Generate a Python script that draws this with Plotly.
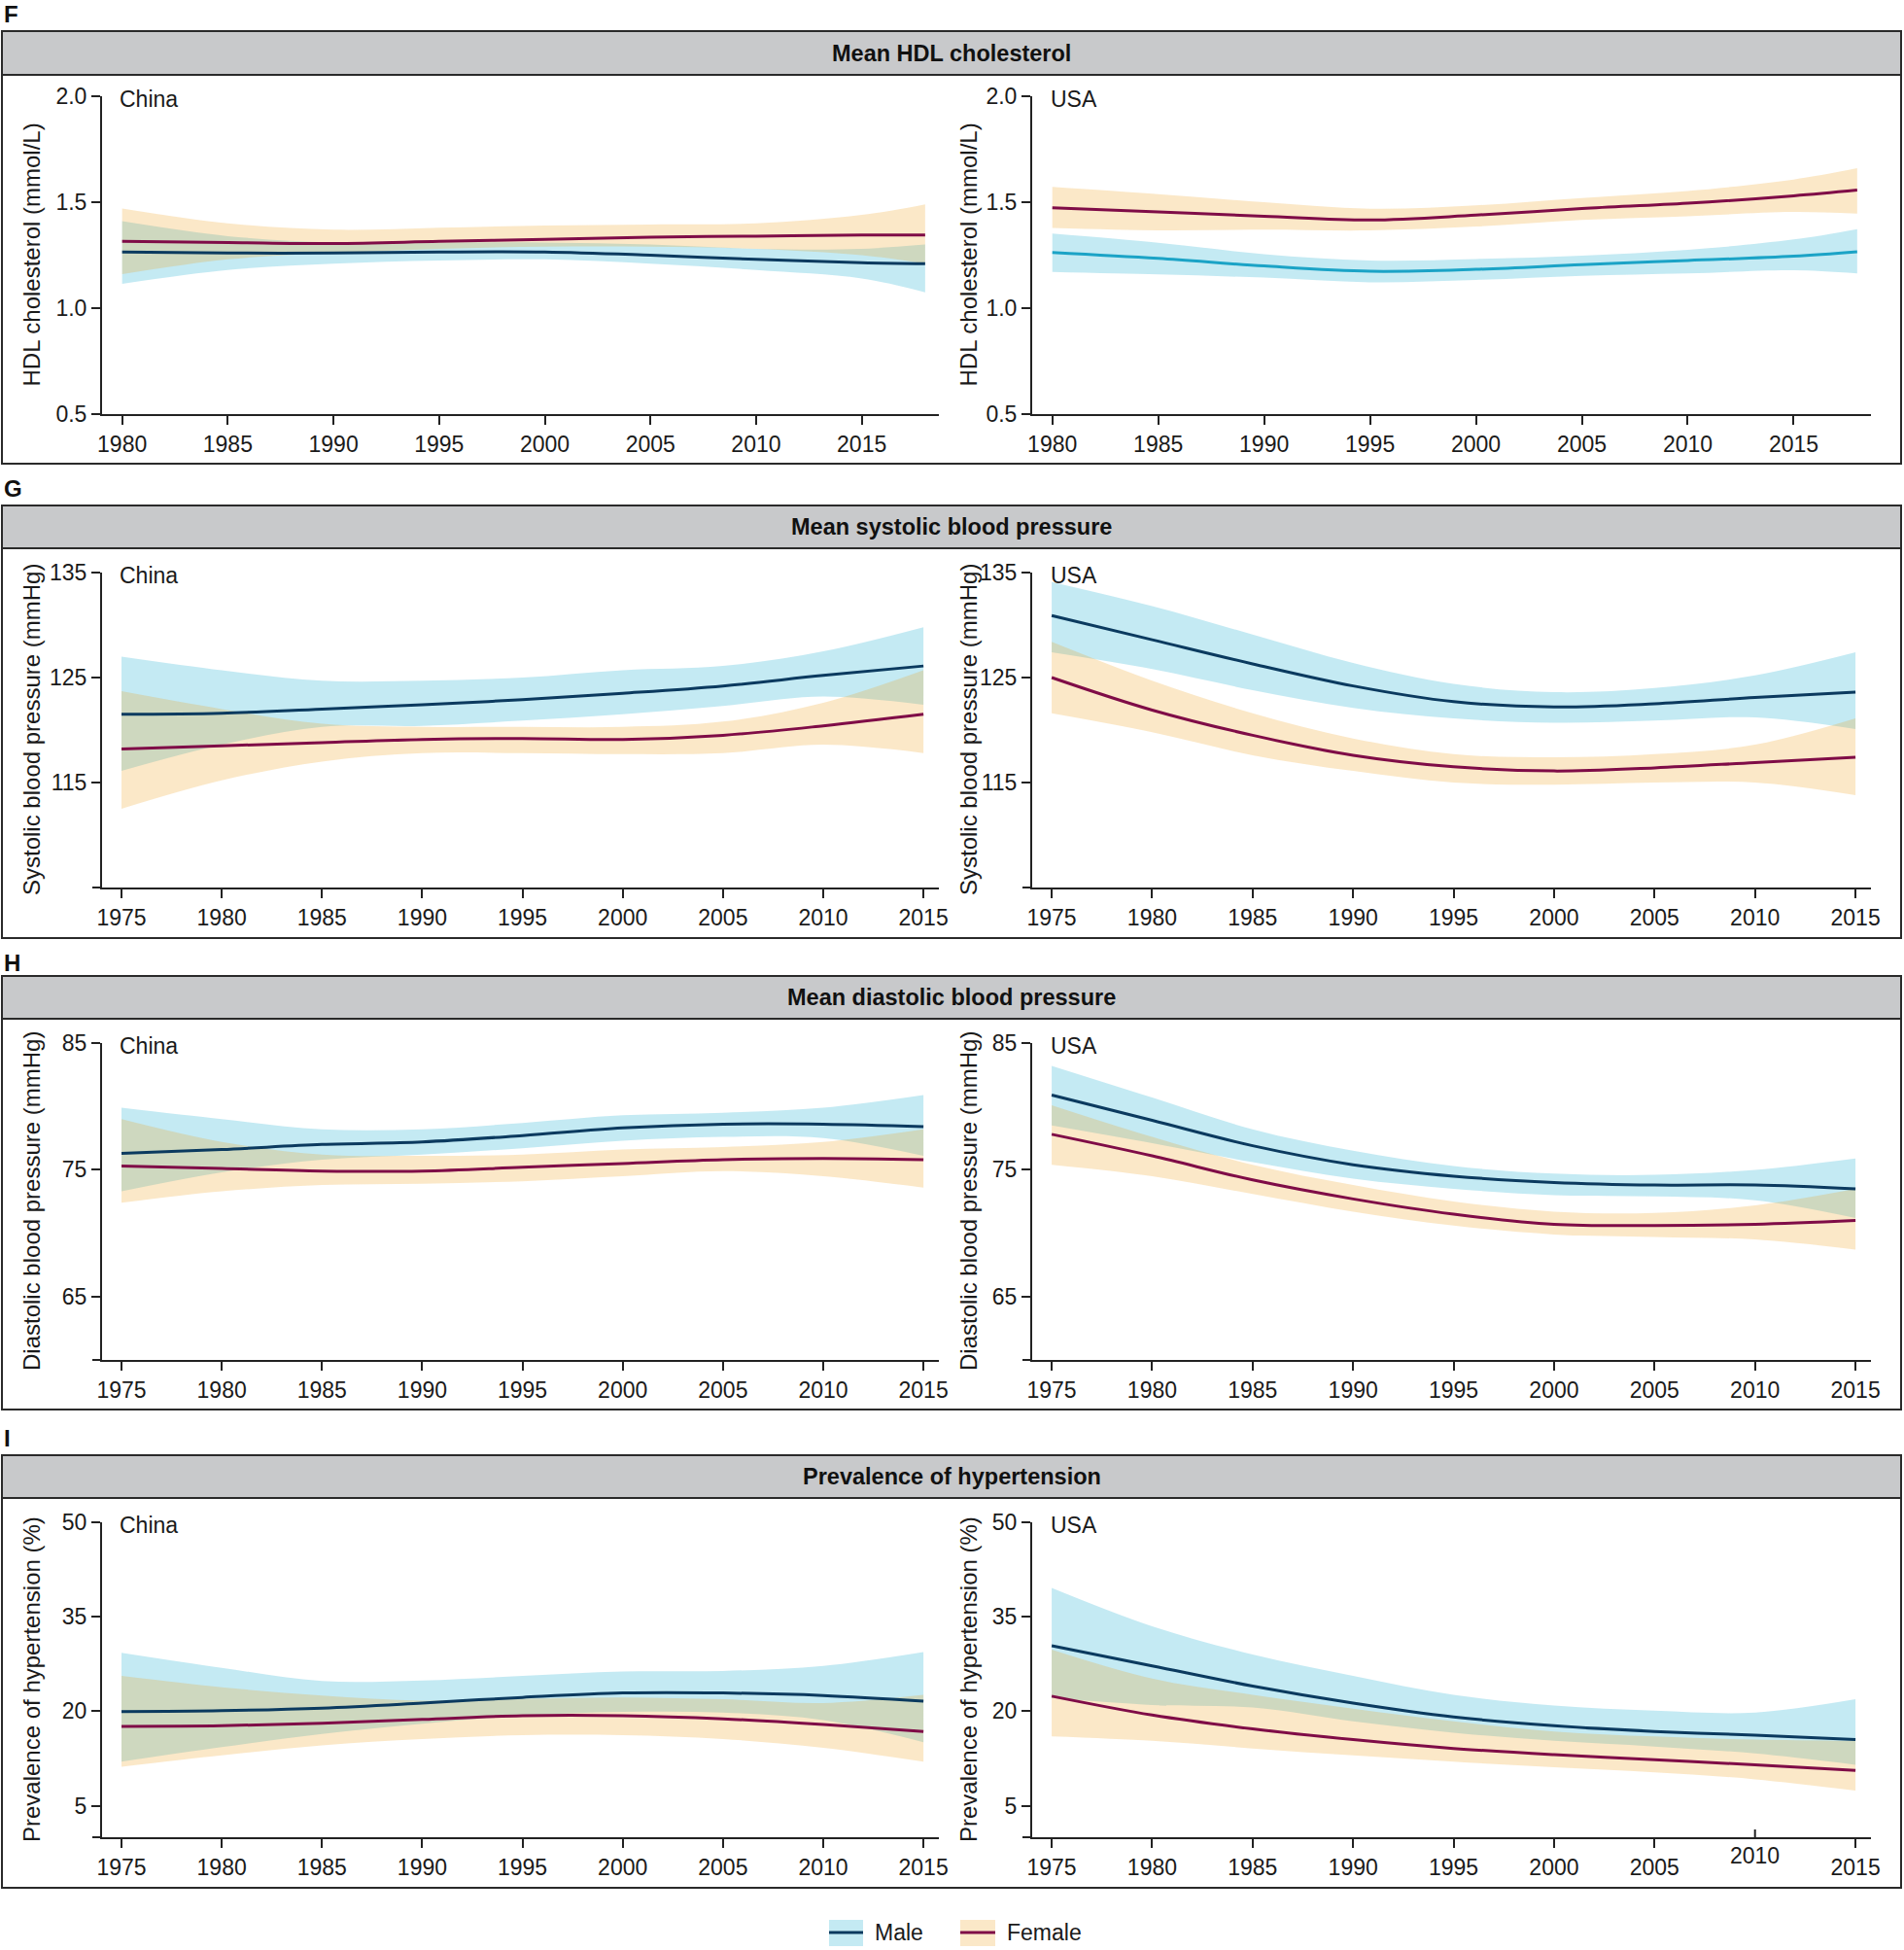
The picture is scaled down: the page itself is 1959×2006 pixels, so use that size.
import plotly.graph_objects as go

W, H = 1959, 2006

# ---------------- data ----------------
years_hdl = [1980, 1985, 1990, 1995, 2000, 2005, 2010, 2015, 2018]
years_bp = [1975, 1980, 1985, 1990, 1995, 2000, 2005, 2010, 2015]

# F: HDL cholesterol (mmol/L)
hdl_cn_m = [1.265, 1.26, 1.26, 1.265, 1.265, 1.25, 1.23, 1.215, 1.21]
hdl_cn_m_hi = [1.41, 1.34, 1.31, 1.31, 1.31, 1.30, 1.28, 1.28, 1.30]
hdl_cn_m_lo = [1.115, 1.18, 1.21, 1.225, 1.23, 1.21, 1.18, 1.14, 1.075]
hdl_cn_f = [1.315, 1.31, 1.305, 1.315, 1.325, 1.335, 1.34, 1.345, 1.345]
hdl_cn_f_hi = [1.47, 1.40, 1.37, 1.38, 1.39, 1.395, 1.40, 1.44, 1.49]
hdl_cn_f_lo = [1.16, 1.23, 1.26, 1.28, 1.29, 1.29, 1.28, 1.25, 1.21]

hdl_us_m = [1.263, 1.235, 1.199, 1.174, 1.183, 1.205, 1.225, 1.245, 1.266]
hdl_us_m_hi = [1.352, 1.309, 1.255, 1.225, 1.232, 1.248, 1.275, 1.324, 1.373]
hdl_us_m_lo = [1.171, 1.159, 1.144, 1.122, 1.133, 1.153, 1.164, 1.179, 1.164]
hdl_us_f = [1.474, 1.454, 1.434, 1.416, 1.439, 1.47, 1.495, 1.53, 1.557]
hdl_us_f_hi = [1.572, 1.538, 1.50, 1.469, 1.485, 1.52, 1.553, 1.607, 1.66]
hdl_us_f_lo = [1.378, 1.367, 1.37, 1.367, 1.385, 1.416, 1.434, 1.454, 1.446]

# G: systolic blood pressure (mmHg)
sbp_cn_m = [121.5, 121.6, 122.0, 122.4, 122.9, 123.5, 124.2, 125.2, 126.1]
sbp_cn_m_hi = [127.0, 125.7, 124.7, 124.7, 125.0, 125.7, 126.1, 127.5, 129.8]
sbp_cn_m_lo = [116.1, 118.6, 120.3, 120.4, 120.9, 121.5, 122.3, 123.2, 122.4]
sbp_cn_f = [118.2, 118.5, 118.8, 119.1, 119.2, 119.1, 119.5, 120.4, 121.5]
sbp_cn_f_hi = [123.7, 122.0, 120.6, 120.3, 120.3, 120.3, 120.8, 122.6, 125.7]
sbp_cn_f_lo = [112.5, 115.2, 117.0, 117.8, 117.8, 117.7, 117.8, 118.6, 117.8]

sbp_us_m = [130.9, 128.6, 126.3, 124.2, 122.7, 122.2, 122.5, 123.1, 123.6]
sbp_us_m_hi = [134.1, 131.8, 129.1, 126.4, 124.4, 123.6, 124.0, 125.2, 127.4]
sbp_us_m_lo = [127.4, 125.8, 123.8, 122.1, 121.1, 120.7, 120.9, 121.2, 120.1]
sbp_us_f = [125.0, 121.9, 119.5, 117.6, 116.5, 116.1, 116.4, 116.9, 117.4]
sbp_us_f_hi = [128.4, 124.7, 121.6, 119.2, 117.7, 117.4, 117.7, 118.6, 121.1]
sbp_us_f_lo = [121.6, 119.8, 117.6, 116.1, 115.0, 114.8, 115.0, 115.0, 113.8]

# H: diastolic blood pressure (mmHg)
dbp_cn_m = [76.3, 76.6, 77.0, 77.2, 77.7, 78.3, 78.6, 78.6, 78.4]
dbp_cn_m_hi = [79.9, 79.0, 78.2, 78.2, 78.7, 79.3, 79.5, 79.9, 80.9]
dbp_cn_m_lo = [73.3, 74.8, 75.8, 76.2, 76.7, 77.3, 77.6, 77.5, 76.1]
dbp_cn_f = [75.3, 75.1, 74.9, 74.9, 75.2, 75.5, 75.8, 75.9, 75.8]
dbp_cn_f_hi = [79.0, 77.2, 76.2, 76.1, 76.2, 76.6, 76.8, 77.2, 78.2]
dbp_cn_f_lo = [72.4, 73.3, 73.8, 73.9, 74.1, 74.5, 74.9, 74.5, 73.6]

dbp_us_m = [80.9, 78.9, 76.9, 75.4, 74.5, 74.0, 73.8, 73.8, 73.5]
dbp_us_m_hi = [83.2, 80.7, 78.2, 76.5, 75.3, 74.7, 74.6, 75.0, 75.9]
dbp_us_m_lo = [78.5, 77.1, 75.6, 74.3, 73.5, 73.0, 72.9, 72.6, 71.2]
dbp_us_f = [77.8, 76.1, 74.2, 72.7, 71.5, 70.7, 70.6, 70.7, 71.0]
dbp_us_f_hi = [80.1, 77.6, 75.4, 73.8, 72.5, 71.7, 71.6, 72.2, 73.5]
dbp_us_f_lo = [75.4, 74.5, 73.1, 71.7, 70.6, 69.9, 69.7, 69.5, 68.7]

# I: prevalence of hypertension (%)
htn_cn_m = [19.95, 20.1, 20.5, 21.3, 22.2, 22.9, 22.9, 22.5, 21.6]
htn_cn_m_hi = [29.3, 26.9, 24.8, 24.9, 25.6, 26.3, 26.4, 27.2, 29.4]
htn_cn_m_lo = [12.0, 14.3, 16.4, 18.0, 19.3, 19.9, 19.8, 18.6, 15.1]
htn_cn_f = [17.6, 17.7, 18.1, 18.7, 19.3, 19.3, 18.8, 17.9, 16.8]
htn_cn_f_hi = [25.6, 23.8, 22.5, 21.7, 22.0, 22.2, 21.9, 21.3, 22.6]
htn_cn_f_lo = [11.2, 13.0, 14.6, 15.6, 16.2, 16.2, 15.6, 14.2, 12.0]

htn_us_m = [30.4, 27.2, 24.0, 21.3, 19.1, 17.7, 16.8, 16.2, 15.5]
htn_us_m_hi = [39.6, 33.5, 29.0, 25.6, 22.6, 20.9, 20.1, 19.8, 21.9]
htn_us_m_lo = [22.1, 21.0, 20.6, 18.4, 16.6, 15.3, 14.4, 13.3, 11.5]
htn_us_f = [22.4, 19.4, 17.2, 15.5, 14.1, 13.1, 12.3, 11.5, 10.6]
htn_us_f_hi = [29.8, 25.2, 22.6, 20.4, 18.4, 16.8, 16.0, 15.5, 15.3]
htn_us_f_lo = [16.0, 15.3, 14.1, 13.0, 12.0, 11.1, 10.3, 9.2, 7.4]

section_letters = ["F", "G", "H", "I"]
section_titles = ["Mean HDL cholesterol", "Mean systolic blood pressure",
                  "Mean diastolic blood pressure", "Prevalence of hypertension"]
y_titles = ["HDL cholesterol (mmol/L)", "Systolic blood pressure (mmHg)",
            "Diastolic blood pressure (mmHg)", "Prevalence of hypertension (%)"]
y_ranges = [[0.5, 2.0], [105, 135], [60, 85], [0, 50]]
y_tickvals = [[0.5, 1.0, 1.5, 2.0], [115, 125, 135], [65, 75, 85], [5, 20, 35, 50]]
y_ticktext = [["0.5", "1.0", "1.5", "2.0"], ["115", "125", "135"], ["65", "75", "85"],
              ["5", "20", "35", "50"]]
x_tickvals = [[1980, 1985, 1990, 1995, 2000, 2005, 2010, 2015],
              [1975, 1980, 1985, 1990, 1995, 2000, 2005, 2010, 2015]]
# in the original, the 2010 label of the last USA panel is drawn raised with an inward tick
raised_tick_year = 2010
countries = ["China", "USA"]
legend_labels = ["Male", "Female"]

panel_data = [
    [(hdl_cn_m, hdl_cn_m_lo, hdl_cn_m_hi, hdl_cn_f, hdl_cn_f_lo, hdl_cn_f_hi),
     (hdl_us_m, hdl_us_m_lo, hdl_us_m_hi, hdl_us_f, hdl_us_f_lo, hdl_us_f_hi)],
    [(sbp_cn_m, sbp_cn_m_lo, sbp_cn_m_hi, sbp_cn_f, sbp_cn_f_lo, sbp_cn_f_hi),
     (sbp_us_m, sbp_us_m_lo, sbp_us_m_hi, sbp_us_f, sbp_us_f_lo, sbp_us_f_hi)],
    [(dbp_cn_m, dbp_cn_m_lo, dbp_cn_m_hi, dbp_cn_f, dbp_cn_f_lo, dbp_cn_f_hi),
     (dbp_us_m, dbp_us_m_lo, dbp_us_m_hi, dbp_us_f, dbp_us_f_lo, dbp_us_f_hi)],
    [(htn_cn_m, htn_cn_m_lo, htn_cn_m_hi, htn_cn_f, htn_cn_f_lo, htn_cn_f_hi),
     (htn_us_m, htn_us_m_lo, htn_us_m_hi, htn_us_f, htn_us_f_lo, htn_us_f_hi)],
]

# ---------------- styling / layout ----------------
FONT = "Liberation Sans, Arial, Helvetica, sans-serif"
TXT = "#1a1a1a"
AX = "#222222"
MALE_BAND = "rgba(0,166,204,0.23)"
FEMALE_BAND = "rgba(238,159,26,0.24)"
MALE_LINE = "#0b3a5f"
MALE_LINE_HDL_US = "#1ba3c6"
FEMALE_LINE = "#7f0c47"
HEADER_FILL = "#c8c9cb"
TICK_SIZE = 23

# pixel geometry (top-down)
sec_geom = [  # plot top, plot bottom, box top, header bottom, box bottom, letter y
    (99, 426, 32, 77, 477, 15),
    (589, 913, 520, 564, 965, 502),
    (1073, 1399, 1004, 1048, 1450, 990),
    (1566, 1890, 1497, 1541, 1942, 1479),
]
col_x = [(105, 966), (1062, 1925)]
ytitle_x = [32, 996]
label_x = [121, 1079]
x_ranges = [[1979.05, 2018.65], [1974.03, 2015.77]]


def fx(p):
    return p / W


def fy(p):
    return 1 - p / H


fig = go.Figure()
layout = dict(
    width=W, height=H, margin=dict(l=0, r=0, t=0, b=0, pad=0, autoexpand=False),
    paper_bgcolor="white", plot_bgcolor="rgba(0,0,0,0)",
    showlegend=False, font=dict(family=FONT, size=22, color=TXT),
)
shapes = []
annotations = []

ax_i = 0
for s in range(4):
    ptop, pbot, btop, hbot, bbot, ly = sec_geom[s]
    years = years_hdl if s == 0 else years_bp
    xr = x_ranges[0] if s == 0 else x_ranges[1]
    xt = x_tickvals[0] if s == 0 else x_tickvals[1]

    # section box + header
    shapes.append(dict(type="rect", xref="paper", yref="paper",
                       x0=fx(2), x1=fx(1956), y0=fy(hbot), y1=fy(btop),
                       fillcolor=HEADER_FILL, line=dict(width=0), layer="below"))
    shapes.append(dict(type="rect", xref="paper", yref="paper",
                       x0=fx(2), x1=fx(1956), y0=fy(bbot), y1=fy(btop),
                       line=dict(color="#2a2a2a", width=2)))
    shapes.append(dict(type="line", xref="paper", yref="paper",
                       x0=fx(2), x1=fx(1956), y0=fy(hbot), y1=fy(hbot),
                       line=dict(color="#2a2a2a", width=2)))
    annotations.append(dict(xref="paper", yref="paper", x=fx(979), y=fy((btop + hbot) / 2),
                            text="<b>%s</b>" % section_titles[s], showarrow=False,
                            xanchor="center", yanchor="middle",
                            font=dict(size=23.5, family=FONT, color="#111")))
    annotations.append(dict(xref="paper", yref="paper", x=fx(2), y=fy(ly),
                            text="<b>%s</b>" % section_letters[s], showarrow=False,
                            xanchor="left", yanchor="middle",
                            font=dict(size=24, family=FONT, color="#111")))

    for c in range(2):
        ax_i += 1
        xa = "x" if ax_i == 1 else "x%d" % ax_i
        ya = "y" if ax_i == 1 else "y%d" % ax_i
        xkey = "xaxis" if ax_i == 1 else "xaxis%d" % ax_i
        ykey = "yaxis" if ax_i == 1 else "yaxis%d" % ax_i
        x0p, x1p = col_x[c]
        m, mlo, mhi, f, flo, fhi = panel_data[s][c]
        mline = MALE_LINE_HDL_US if (s == 0 and c == 1) else MALE_LINE
        quirk = (s == 3 and c == 1)

        # male band (lower edge, then upper edge filled to it)
        fig.add_trace(go.Scatter(x=years, y=mlo, xaxis=xa, yaxis=ya, mode="lines",
                                 line=dict(width=0, shape="spline"), hoverinfo="skip", name="Male"))
        fig.add_trace(go.Scatter(x=years, y=mhi, xaxis=xa, yaxis=ya, mode="lines",
                                 fill="tonexty", fillcolor=MALE_BAND,
                                 line=dict(width=0, shape="spline"), hoverinfo="skip", name="Male"))
        # female band
        fig.add_trace(go.Scatter(x=years, y=flo, xaxis=xa, yaxis=ya, mode="lines",
                                 line=dict(width=0, shape="spline"), hoverinfo="skip", name="Female"))
        fig.add_trace(go.Scatter(x=years, y=fhi, xaxis=xa, yaxis=ya, mode="lines",
                                 fill="tonexty", fillcolor=FEMALE_BAND,
                                 line=dict(width=0, shape="spline"), hoverinfo="skip", name="Female"))
        # mean lines
        fig.add_trace(go.Scatter(x=years, y=m, xaxis=xa, yaxis=ya, mode="lines",
                                 line=dict(color=mline, width=3, shape="spline"), name="Male"))
        fig.add_trace(go.Scatter(x=years, y=f, xaxis=xa, yaxis=ya, mode="lines",
                                 line=dict(color=FEMALE_LINE, width=3, shape="spline"), name="Female"))

        xt_use = [v for v in xt if not (quirk and v == raised_tick_year)]
        layout[xkey] = dict(domain=[fx(x0p), fx(x1p)], anchor=ya, range=xr, automargin=False,
                            tickvals=xt_use, ticktext=[str(v) for v in xt_use],
                            showline=True, linecolor=AX, linewidth=2, ticks="outside",
                            ticklen=9, tickwidth=2, tickcolor=AX, showgrid=False, zeroline=False,
                            tickfont=dict(size=TICK_SIZE, family=FONT, color=TXT), fixedrange=True)
        layout[ykey] = dict(domain=[fy(pbot), fy(ptop)], anchor=xa, range=y_ranges[s], automargin=False,
                            tickvals=y_tickvals[s], ticktext=y_ticktext[s],
                            showline=True, linecolor=AX, linewidth=2, ticks="outside",
                            ticklen=9, tickwidth=2, tickcolor=AX, showgrid=False, zeroline=False,
                            tickfont=dict(size=TICK_SIZE, family=FONT, color=TXT), fixedrange=True)
        if quirk:
            shapes.append(dict(type="line", xref=xa, yref="paper",
                               x0=raised_tick_year, x1=raised_tick_year,
                               y0=fy(pbot), y1=fy(pbot - 8), line=dict(color=AX, width=2)))
            annotations.append(dict(xref=xa, yref="paper", x=raised_tick_year, y=fy(pbot + 19),
                                    text=str(raised_tick_year), showarrow=False,
                                    xanchor="center", yanchor="middle",
                                    font=dict(size=TICK_SIZE, family=FONT, color=TXT)))
        # x axis line extension to the left of the y axis
        shapes.append(dict(type="line", xref="paper", yref="paper",
                           x0=fx(x0p - 10), x1=fx(x0p), y0=fy(pbot), y1=fy(pbot),
                           line=dict(color=AX, width=2)))
        annotations.append(dict(xref="paper", yref="paper", x=fx(ytitle_x[c]), y=fy((ptop + pbot) / 2),
                                text=y_titles[s], textangle=-90, showarrow=False,
                                xanchor="center", yanchor="middle",
                                font=dict(size=24, family=FONT, color=TXT)))
        annotations.append(dict(xref="paper", yref="paper", x=fx(label_x[c]), y=fy(ptop + 3),
                                text=countries[c], showarrow=False,
                                xanchor="left", yanchor="middle",
                                font=dict(size=23, family=FONT, color=TXT)))

# legend (manual)
leg = [(853, 888, 898, "#c4eaf3", MALE_LINE, legend_labels[0]),
       (988, 1024, 1034, "#fbe8c8", FEMALE_LINE, legend_labels[1])]
for sx0, sx1, tx, fill, lc, lab in leg:
    shapes.append(dict(type="rect", xref="paper", yref="paper", x0=fx(sx0), x1=fx(sx1),
                       y0=fy(2002), y1=fy(1975), fillcolor=fill, line=dict(width=0)))
    shapes.append(dict(type="line", xref="paper", yref="paper", x0=fx(sx0), x1=fx(sx1),
                       y0=fy(1988), y1=fy(1988), line=dict(color=lc, width=3)))
    annotations.append(dict(xref="paper", yref="paper", x=fx(tx), y=fy(1988), text=lab,
                            showarrow=False, xanchor="left", yanchor="middle",
                            font=dict(size=23, family=FONT, color=TXT)))

layout["shapes"] = shapes
layout["annotations"] = annotations
fig.update_layout(**layout)
fig.write_html("out.html", config={"displayModeBar": False},
               post_script="document.body.style.margin='0';document.body.style.padding='0';"
                           "document.documentElement.style.overflow='hidden';")
